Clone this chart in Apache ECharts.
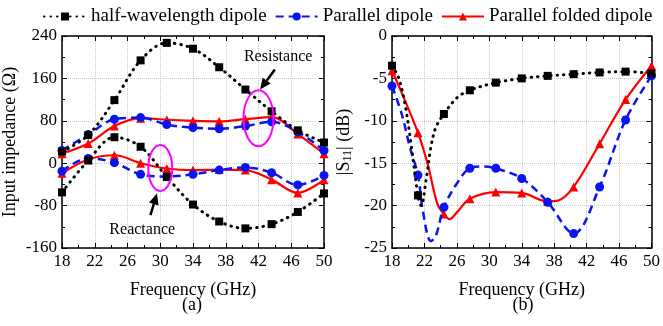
<html>
<head>
<meta charset="utf-8">
<title>Dipole impedance and S11</title>
<script src="https://cdn.jsdelivr.net/npm/echarts@6/dist/echarts.min.js"></script>
</head>
<body style="margin:0">
<div id="chart" style="width:663px;height:326px;"></div>
<script type="text/javascript">
// frequencies where markers sit (GHz)
var markFreq = [18, 21.2, 24.4, 27.6, 30.8, 34, 37.2, 40.4, 43.6, 46.8, 50];

// (a) input impedance, ohm
var halfRes   = [22, 53, 119, 194, 227, 216, 181, 139, 98, 62, 39];
var halfReact = [-55, 5, 49, 31, -26, -78, -110, -123, -115, -92, -57];
var parRes    = [24, 54, 83, 86, 73, 67, 65, 70, 78, 59, 24];
var parReact  = [-15, 9, 1, -21, -25, -21, -13, -8, -18, -41, -23];
var foldRes   = [18, 37, 70, 85, 82, 80, 79, 83, 87, 55, 18];
var foldReact = [-19, 7, 15, 0, -10, -13, -12, -13, -31, -56, -31];

// (b) |S11| in dB
var halfS11Freq = [18, 18.8, 19.6, 20.4, 21.2, 21.6, 22.2, 22.8, 23.4, 24.4, 26, 27.6, 30.8, 34, 37.2, 40.4, 43.6, 46.8, 50];
var halfS11     = [-3.5, -4.9, -8, -13.1, -18.8, -20, -17, -13.1, -10.8, -9.2, -7.3, -6.4, -5.5, -5.0, -4.7, -4.5, -4.3, -4.2, -4.4];
var parS11Freq  = [18, 19.2, 20.2, 21.2, 21.8, 22.8, 23.4, 24.4, 26, 27.6, 29.2, 30.8, 34, 37.2, 40.4, 43.6, 46.8, 50];
var parS11      = [-5.9, -9.2, -13.1, -16.4, -20.6, -24.2, -23.6, -20.2, -17.4, -15.6, -15.4, -15.6, -16.8, -19.6, -23.3, -17.8, -9.9, -4.7];
var foldS11Freq = [18, 19.2, 21.2, 22.4, 23.6, 24.4, 25.1, 26, 27.6, 30.8, 34, 37.2, 38.5, 40.4, 43.6, 46.8, 50];
var foldS11     = [-4.1, -6.7, -11.4, -15.1, -19.8, -21, -21.6, -20.8, -19.2, -18.4, -18.5, -19.5, -19.4, -17.8, -12.7, -7.5, -3.5];

var names = ['half-wavelength dipole', 'Parallel dipole', 'Parallel folded dipole'];
var FONT = '"Liberation Serif", "Times New Roman", serif';

function pairs(xs, ys) {
    return xs.map(function (x, i) {
        var item = { value: [x, ys[i]] };
        if (markFreq.indexOf(x) < 0) item.symbol = 'none';
        return item;
    });
}

var styles = [
    { color: '#000', symbol: 'rect', symbolSize: 8, lineStyle: { color: '#000', width: 3, type: [0.5, 6], cap: 'round' } },
    { color: '#0a14f0', symbol: 'circle', symbolSize: 9, lineStyle: { color: '#0a14f0', width: 2.5, type: [8, 5] } },
    { color: '#f00', symbol: 'triangle', symbolSize: 9, lineStyle: { color: '#f00', width: 2.2, type: 'solid' } }
];

function mkSeries(k, axis, data) {
    var s = styles[k];
    return {
        name: names[k], type: 'line', smooth: 0.35,
        xAxisIndex: axis, yAxisIndex: axis,
        symbol: s.symbol, symbolSize: s.symbolSize, showAllSymbol: true,
        itemStyle: { color: s.color },
        lineStyle: s.lineStyle,
        data: data, z: 3 - k
    };
}

function valAxis(grid, pos, min, max, interval, showLabel) {
    return {
        type: 'value', gridIndex: grid, position: pos, min: min, max: max, interval: interval,
        axisLine: { show: true, onZero: false, lineStyle: { color: '#000', width: 1.5 } },
        axisTick: { show: true, inside: true, length: 5, lineStyle: { color: '#000' } },
        minorTick: { show: true, splitNumber: 2, length: 3, lineStyle: { color: '#000' } },
        axisLabel: { show: showLabel, color: '#000', fontSize: 17, fontFamily: FONT, margin: 5 },
        splitLine: { show: showLabel, lineStyle: { color: '#c8c8c8', type: 'dotted' } }
    };
}

var xAxes = [
    valAxis(0, 'bottom', 18, 50, 4, true),
    valAxis(1, 'bottom', 18, 50, 4, true),
    valAxis(0, 'top', 18, 50, 4, false),
    valAxis(1, 'top', 18, 50, 4, false)
];
[0, 1].forEach(function (i) {
    xAxes[i].name = 'Frequency (GHz)';
    xAxes[i].nameLocation = 'middle';
    xAxes[i].nameGap = 33;
    xAxes[i].nameTextStyle = { color: '#000', fontSize: 18, fontFamily: FONT };
});

var yAxes = [
    valAxis(0, 'left', -160, 240, 80, true),
    valAxis(1, 'left', -25, 0, 5, true),
    valAxis(0, 'right', -160, 240, 80, false),
    valAxis(1, 'right', -25, 0, 5, false)
];
yAxes[0].name = 'Input impedance (\u03A9)';
yAxes[0].nameLocation = 'middle';
yAxes[0].nameGap = 43;
yAxes[0].nameTextStyle = { color: '#000', fontSize: 18, fontFamily: FONT };
yAxes[1].name = '|S{sub|11}| (dB)';
yAxes[1].nameLocation = 'middle';
yAxes[1].nameGap = 38;
yAxes[1].nameTextStyle = {
    color: '#000', fontSize: 18, fontFamily: FONT,
    rich: { sub: { fontSize: 12, fontFamily: FONT, color: '#000', verticalAlign: 'bottom', padding: [8, 0, 0, 0] } }
};

var chart = echarts.init(document.getElementById('chart'));
chart.setOption({
    animation: false,
    backgroundColor: '#fff',
    textStyle: { fontFamily: FONT },
    legend: {
        top: 2, left: 38, itemWidth: 42, itemHeight: 10, itemGap: 8,
        textStyle: { color: '#000', fontSize: 19, fontFamily: FONT },
        data: names
    },
    grid: [
        { left: 61, right: 339, top: 36, bottom: 78 },
        { left: 392, right: 8, top: 36, bottom: 78 }
    ],
    xAxis: xAxes,
    yAxis: yAxes,
    series: [
        mkSeries(0, 0, pairs(markFreq, halfRes)),
        mkSeries(0, 0, pairs(markFreq, halfReact)),
        mkSeries(1, 0, pairs(markFreq, parRes)),
        mkSeries(1, 0, pairs(markFreq, parReact)),
        mkSeries(2, 0, pairs(markFreq, foldRes)),
        mkSeries(2, 0, pairs(markFreq, foldReact)),
        mkSeries(0, 1, pairs(halfS11Freq, halfS11)),
        mkSeries(1, 1, pairs(parS11Freq, parS11)),
        mkSeries(2, 1, pairs(foldS11Freq, foldS11))
    ]
});

// annotations placed in data coordinates of panel (a)
function toPx(f, v) {
    return chart.convertToPixel({ xAxisIndex: 0, yAxisIndex: 0 }, [f, v]);
}
function arrow(from, to) {
    var a = toPx(from[0], from[1]), b = toPx(to[0], to[1]);
    var dx = b[0] - a[0], dy = b[1] - a[1], len = Math.sqrt(dx * dx + dy * dy);
    var ux = dx / len, uy = dy / len, hl = 11, hw = 5;
    var base = [b[0] - ux * hl, b[1] - uy * hl];
    return [
        { type: 'line', shape: { x1: a[0], y1: a[1], x2: base[0], y2: base[1] }, style: { stroke: '#000', lineWidth: 2.5 }, z: 10 },
        { type: 'polygon', shape: { points: [b, [base[0] - uy * hw, base[1] + ux * hw], [base[0] + uy * hw, base[1] - ux * hw]] }, style: { fill: '#000' }, z: 10 }
    ];
}
function ellipse(f, v, rx, ry) {
    var c = toPx(f, v);
    return { type: 'ellipse', shape: { cx: c[0], cy: c[1], rx: rx, ry: ry }, style: { fill: 'none', stroke: '#f0f', lineWidth: 2 }, z: 10 };
}
function label(text, f, v) {
    var p = toPx(f, v);
    return { type: 'text', x: p[0], y: p[1], style: { text: text, fill: '#000', font: '16px "Liberation Serif"', align: 'center', verticalAlign: 'middle' }, z: 10 };
}
var g = [];
g.push(ellipse(42.0, 85, 15, 28));
g.push(ellipse(30.0, -9, 12, 23));
g = g.concat(arrow([44.0, 177], [42.2, 139]));
g = g.concat(arrow([28.8, -98], [29.6, -57]));
g.push(label('Resistance', 44.4, 200));
g.push(label('Reactance', 27.8, -126));
g.push({ type: 'text', x: 192, y: 305, style: { text: '(a)', fill: '#000', font: '18px "Liberation Serif"', align: 'center', verticalAlign: 'middle' } });
g.push({ type: 'text', x: 523, y: 305, style: { text: '(b)', fill: '#000', font: '18px "Liberation Serif"', align: 'center', verticalAlign: 'middle' } });
chart.setOption({ graphic: g });
</script>
</body>
</html>
